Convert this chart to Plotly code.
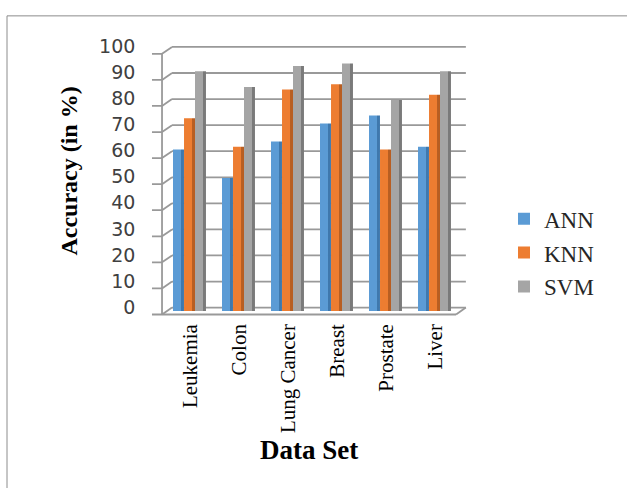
import plotly.graph_objects as go

# Data
categories = ["Leukemia", "Colon", "Lung Cancer", "Breast", "Prostate", "Liver"]
ann = [62, 51, 65, 72, 75, 63]
knn = [74, 63, 85, 87, 62, 83]
svm = [92, 86, 94, 95, 81, 92]
series_names = ["ANN", "KNN", "SVM"]
y_ticks = list(range(0, 101, 10))

series_values = [ann, knn, svm]
face_colors = ["#5B9BD5", "#ED7D31", "#A5A5A5"]
side_colors = ["#3F78AD", "#B85E22", "#7A7A7A"]
face_offsets = [-0.347, -0.122, 0.102]
face_width = 0.163
side_width = 0.061

W, H = 627, 488

fig = go.Figure()
for name, vals, fc, sc, off in zip(series_names, series_values, face_colors,
                                  side_colors, face_offsets):
    fig.add_trace(go.Bar(
        x=categories, y=vals, name=name, offset=off, width=face_width,
        marker=dict(color=fc, line=dict(width=0)), opacity=1,
        legendgroup=name, hoverinfo="x+y+name",
    ))
    # darker right-hand face gives the columns their depth
    fig.add_trace(go.Bar(
        x=categories, y=vals, name=name, offset=off + face_width,
        width=side_width, marker=dict(color=sc, line=dict(width=0)),
        opacity=1, legendgroup=name, showlegend=False, hoverinfo="skip",
    ))

# 3-D wall geometry (in axis units)
depth_y = 1.32
x_front = -0.571
x_back = -0.367
x_tick = -0.776
x_right_back = 5.63
x_right_front = 5.43
grid_col = "#999999"
grid_w = 1.8

shapes = []
for v in y_ticks:
    fy, by = v - depth_y, v + depth_y
    shapes.append(dict(type="line", xref="x", yref="y", x0=x_back, x1=x_right_back,
                       y0=by, y1=by, line=dict(color=grid_col, width=grid_w), layer="below"))
    shapes.append(dict(type="line", xref="x", yref="y", x0=x_front, x1=x_back,
                       y0=fy, y1=by, line=dict(color=grid_col, width=grid_w), layer="below"))
    shapes.append(dict(type="line", xref="x", yref="y", x0=x_tick, x1=x_front,
                       y0=fy, y1=fy, line=dict(color=grid_col, width=grid_w), layer="below"))
shapes.append(dict(type="line", xref="x", yref="y", x0=x_front, x1=x_front,
                   y0=-depth_y, y1=100 - depth_y,
                   line=dict(color=grid_col, width=grid_w), layer="below"))
shapes.append(dict(type="line", xref="x", yref="y", x0=x_front, x1=x_right_front,
                   y0=-depth_y, y1=-depth_y,
                   line=dict(color=grid_col, width=grid_w), layer="below"))
shapes.append(dict(type="line", xref="x", yref="y", x0=x_right_front, x1=x_right_back,
                   y0=-depth_y, y1=depth_y,
                   line=dict(color=grid_col, width=grid_w), layer="below"))
# chart border
shapes.append(dict(type="rect", xref="paper", yref="paper",
                   x0=7 / W, x1=1.2, y0=-0.2, y1=1 - 9 / H,
                   line=dict(color="#8C8C8C", width=1), fillcolor="rgba(0,0,0,0)"))

fig.update_layout(
    width=W, height=H,
    margin=dict(l=0, r=0, t=0, b=0),
    paper_bgcolor="white", plot_bgcolor="white",
    barmode="overlay",
    shapes=shapes,
    showlegend=True,
    legend=dict(
        x=504 / W, y=1 - 193 / H, xanchor="left", yanchor="top",
        font=dict(family="Liberation Serif", size=23, color="#262626"),
        tracegroupgap=1, bgcolor="rgba(0,0,0,0)",
    ),
    xaxis=dict(
        domain=[148.35 / W, 471.75 / W],
        range=[-0.85, 5.75],
        showgrid=False, zeroline=False, showline=False,
        ticks="", tickangle=-90, ticklabelstandoff=0,
        tickfont=dict(family="Liberation Serif", size=21, color="#000000"),
    ),
    yaxis=dict(
        domain=[(H - 316.4) / H, (H - 36.1) / H],
        range=[-3, 103],
        tickvals=y_ticks,
        showgrid=False, zeroline=False, showline=False,
        ticks="", ticklabelstandoff=12, ticklabelshift=-4,
        tickfont=dict(family="DejaVu Sans", size=19, color="#404040"),
    ),
    annotations=[
        dict(text="<b>Accuracy (in %)</b>", xref="paper", yref="paper",
             x=69 / W, y=1 - 167 / H, textangle=-90, showarrow=False,
             xanchor="center", yanchor="middle",
             font=dict(family="Liberation Serif", size=24, color="#000000")),
        dict(text="<b>Data Set</b>", xref="paper", yref="paper",
             x=309 / W, y=1 - 449 / H, showarrow=False,
             xanchor="center", yanchor="middle",
             font=dict(family="Liberation Serif", size=27, color="#000000")),
    ],
)

fig.write_html("out.html")
